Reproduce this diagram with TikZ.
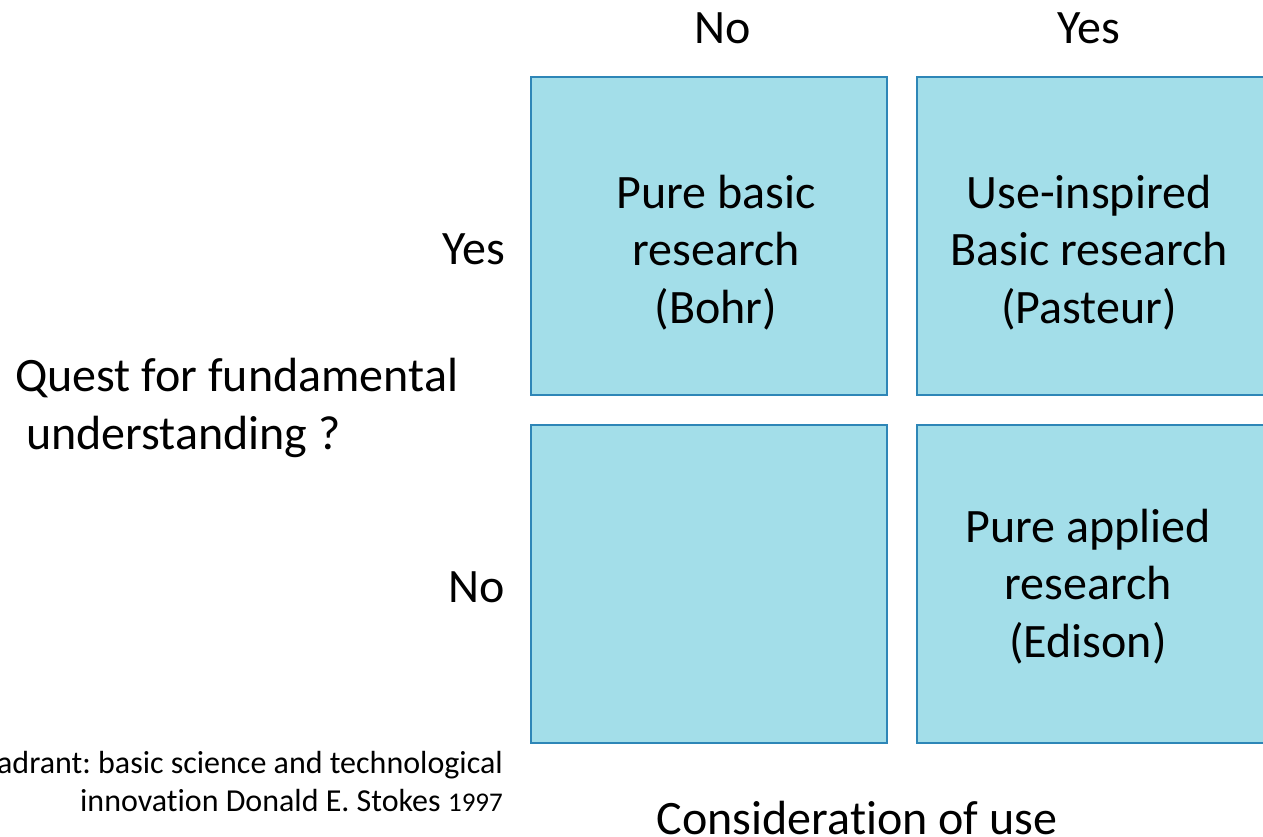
\documentclass[tikz,border=0pt]{standalone}
\usepackage{fontspec}
\setmainfont[Ligatures=NoCommon]{Carlito}
\frenchspacing
\usetikzlibrary{positioning}
\definecolor{quadfill}{RGB}{163,222,233}
\definecolor{quadline}{RGB}{46,134,183}

\begin{document}
\begin{tikzpicture}[x=1pt, y=-1pt,
    quad/.style={draw=quadline, fill=quadfill, line width=1.5pt, inner sep=0pt},
    big/.style={font=\fontsize{48}{57.5}\selectfont, align=center, inner sep=0pt, anchor=base},
    note/.style={font=\fontsize{32}{37.5}\selectfont, align=right, inner sep=0pt, anchor=base east}]
    \useasboundingbox (0,0) rectangle (1263,837);
    % the four quadrants
    \draw[quad] (531,77) rectangle (887,395);
    \draw[quad] (917,77) rectangle (1268,395);
    \draw[quad] (531,425) rectangle (887,743);
    \draw[quad] (917,425) rectangle (1268,743);
    % column and row heads
    \node[big] (colno) at (723,44) {No};
    \node[big] (colyes) at (1089,44) {Yes};
    \node[big, anchor=base east] (rowyes) at (505,264) {Yes};
    \node[big, anchor=base east] (rowno) at (505,602) {No};
    % texts in the quadrants (base = last line)
    \node[big] (bohr) at (716,323) {Pure basic\\research\\(Bohr)};
    \node[big] (pasteur) at (1089,323) {Use-inspired\\Basic research\\(Pasteur)};
    \node[big] (edison) at (1088,657) {Pure applied\\research\\(Edison)};
    % axis titles
    \node[big, align=left, anchor=base west] (quest) at (15,449) {Quest for fundamental\\\ understanding ?};
    \node[big] (use) at (857,834) {Consideration of use};
    \node[note] (source) at (503,811) {adrant: basic science and technological\\innovation Donald E. Stokes {\fontsize{27}{37.5}\selectfont 1997}};
\end{tikzpicture}
\end{document}
